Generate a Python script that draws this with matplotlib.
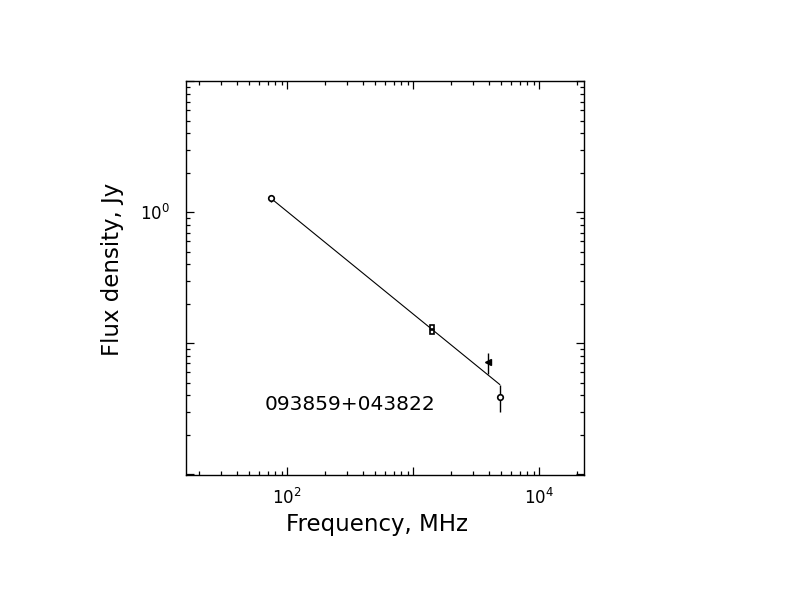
import matplotlib
matplotlib.use("Agg")
import matplotlib.pyplot as plt
from matplotlib.ticker import FixedLocator, LogLocator, NullFormatter, FixedFormatter

# measured points
freq_circ = [74, 4850]
flux_circ = [1.28, 0.0387]
err_circ = [0.08, 0.009]

freq_sq = [1400, 1400]
flux_sq = [0.133, 0.122]

freq_tri = [3950]
flux_tri = [0.0716]
err_tri = [0.013]

# fitted spectrum
fit_freq = [74, 4850]
fit_flux = [1.28, 0.0484]

source_name = "093859+043822"

W, H = 792, 612
fig = plt.figure(figsize=(W / 100, H / 100), dpi=100)
ax = fig.add_axes([186.3 / W, 1 - 475.3 / H, 398 / W, 394 / H])

ax.plot(fit_freq, fit_flux, color="black", lw=0.8)
ax.errorbar(freq_circ, flux_circ, yerr=err_circ, fmt="o", ms=4, mfc="white",
            mec="black", mew=1.2, ecolor="black", elinewidth=1, capsize=0)
ax.plot(freq_sq, flux_sq, "s", ms=3.5, mfc="white", mec="black", mew=1.2)
ax.errorbar(freq_tri, flux_tri, yerr=err_tri, fmt="<", ms=5, color="black",
            elinewidth=1, capsize=0)

ax.set_xscale("log")
ax.set_yscale("log")
ax.set_xlim(15.8, 22750)
ax.set_ylim(0.0098, 10.0)

ax.xaxis.set_major_locator(FixedLocator([100, 1000, 10000]))
ax.xaxis.set_major_formatter(FixedFormatter(["10$^2$", "", "10$^4$"]))
ax.xaxis.set_minor_locator(LogLocator(base=10, subs=range(2, 10), numticks=20))
ax.xaxis.set_minor_formatter(NullFormatter())
ax.yaxis.set_major_locator(FixedLocator([0.01, 0.1, 1, 10]))
ax.yaxis.set_major_formatter(FixedFormatter(["", "", "10$^0$", ""]))
ax.yaxis.set_minor_locator(LogLocator(base=10, subs=range(2, 10), numticks=20))
ax.yaxis.set_minor_formatter(NullFormatter())

ax.tick_params(which="both", direction="in", top=True, right=True, width=0.9,
               labelsize=12, colors="black")
ax.tick_params(which="major", length=6, pad=12)
ax.tick_params(which="minor", length=3)
ax.tick_params(axis="x", which="major", pad=9)
for s in ax.spines.values():
    s.set_linewidth(1.0)

ax.text(265 / W, 1 - 410 / H, source_name, transform=fig.transFigure,
        fontsize=14.5, ha="left", va="baseline")
fig.text(377 / W, 1 - 531 / H, "Frequency, MHz", fontsize=16.5,
         ha="center", va="baseline")
fig.text(112 / W, 1 - 269 / H, "Flux density, Jy", fontsize=16.5,
         ha="center", va="center", rotation=90)

fig.savefig("out.png", dpi=100)
